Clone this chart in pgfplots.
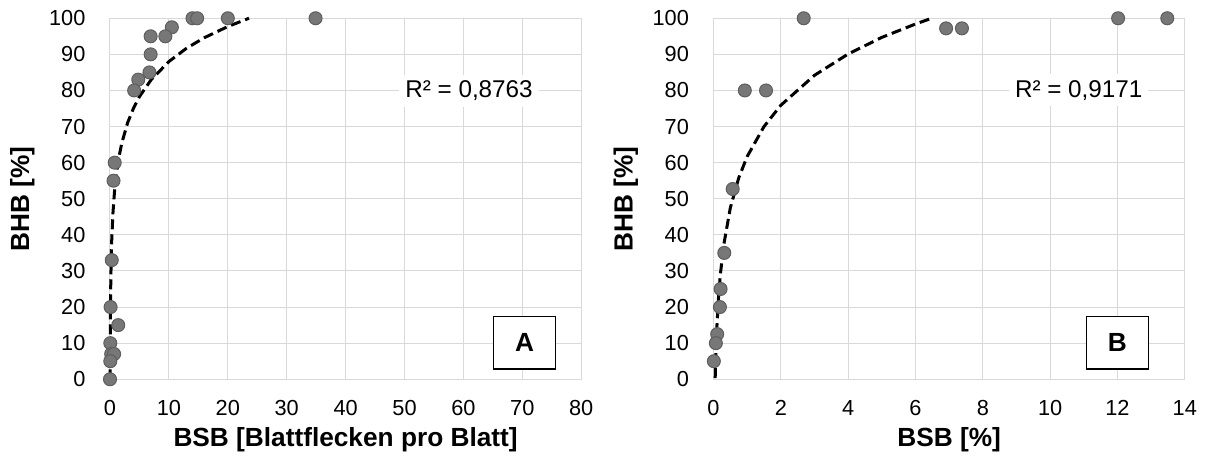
\documentclass[border=0pt]{standalone}
\usepackage{fontspec}
\setmainfont{Liberation Sans}
\usepackage{pgfplots}
\pgfplotsset{compat=1.18}

\definecolor{gridc}{HTML}{D9D9D9}
\definecolor{ptfill}{HTML}{777777}
\definecolor{ptdraw}{HTML}{5E5E5E}

\pgfplotsset{
  mystyle/.style={
    scale only axis, width=188.5pt, height=144.4pt,
    ymin=0, ymax=100, ytick={0,10,...,100},
    grid=major, major grid style={draw=gridc, line width=0.4pt},
    axis line style={draw=gridc, line width=0.4pt},
    major tick length=0pt,
    tick style={draw=none},
    /pgf/number format/assume math mode=true,
    ticklabel style={font=\fontsize{8.7}{10}\selectfont, text=black},
    xticklabel style={anchor=center, yshift=-11.5pt},
    yticklabel style={anchor=east, xshift=-6.3pt},
    clip=false,
    every axis y label/.style={at={(axis description cs:-0.186,0.5)}, rotate=90, anchor=center, font=\fontsize{10.5}{12}\selectfont\bfseries},
    every axis x label/.style={at={(axis description cs:0.5,-0.168)}, anchor=center, font=\fontsize{10.5}{12}\selectfont\bfseries},
  },
  pts/.style={only marks, mark=*, mark size=2.6pt, mark options={fill=ptfill, draw=ptdraw, line width=0.4pt}},
  trend/.style={black, line width=1.2pt, dash pattern=on 4pt off 2pt, mark=none},
}

\begin{document}
\begin{tikzpicture}
\useasboundingbox (-44pt,-33.9pt) rectangle (439.6pt,151.7pt);
\begin{axis}[mystyle, xmin=0, xmax=80, xtick={0,10,...,80},
  xlabel={BSB [Blattflecken pro Blatt]}, ylabel={BHB [\%]}]
\addplot[pts] coordinates {
(14,100) (14.8,100) (20,100) (34.9,100)
(10.5,97.5) (6.9,95) (9.4,95) (6.9,90) (6.7,85) (4.8,83) (4.1,80)
(0.8,60) (0.6,55) (0.3,33) (0.1,20) (1.4,15)
(0.05,10) (0.2,7) (0.7,7) (0.05,5) (0,0)
};
\addplot[trend] coordinates {
(0.019,0) (0.03,6.5) (0.05,13.7) (0.1,23.4) (0.2,33.1) (0.3,38.8) (0.5,46.0)
(0.75,51.7) (1,55.7) (1.5,61.4) (2,65.4) (3,71.1) (4,75.1) (5,78.3) (7,83.0)
(10,88.0) (13,91.7) (16,94.6) (20,97.7) (23.6,100)
};
\node[fill=white, inner sep=2.4pt, font=\fontsize{9.7}{11}\selectfont] at (axis cs:60.95,79.9) {R² = 0,8763};
\node[draw=black, line width=0.5pt, fill=white, minimum width=24.9pt, minimum height=20.9pt, inner sep=0pt, font=\fontsize{10.5}{12}\selectfont\bfseries] at (axis cs:70.4,10.1) {A};
\end{axis}

\begin{axis}[mystyle, at={(241.4pt,0pt)}, xmin=0, xmax=14, xtick={0,2,...,14},
  xlabel={BSB [\%]}, ylabel={BHB [\%]}]
\addplot[pts] coordinates {
(2.68,100) (12.02,100) (13.48,100) (6.91,97.2) (7.38,97.2)
(0.93,80) (1.56,80) (0.57,52.7) (0.32,35) (0.21,25) (0.19,20)
(0.11,12.5) (0.07,10) (0.01,5)
};
\addplot[trend] coordinates {
(0.05,0.3) (0.07,7.2) (0.1,14.5) (0.15,22.8) (0.2,28.7) (0.3,37.0) (0.5,47.5)
(0.75,55.8) (1,61.7) (1.5,70.0) (2,75.9) (3,84.2) (4,90.1) (5,94.7) (6,98.4) (6.48,100)
};
\node[fill=white, inner sep=2.4pt, font=\fontsize{9.7}{11}\selectfont] at (axis cs:10.85,80) {R² = 0,9171};
\node[draw=black, line width=0.5pt, fill=white, minimum width=24.9pt, minimum height=20.9pt, inner sep=0pt, font=\fontsize{10.5}{12}\selectfont\bfseries] at (axis cs:12,10.1) {B};
\end{axis}
\end{tikzpicture}
\end{document}
